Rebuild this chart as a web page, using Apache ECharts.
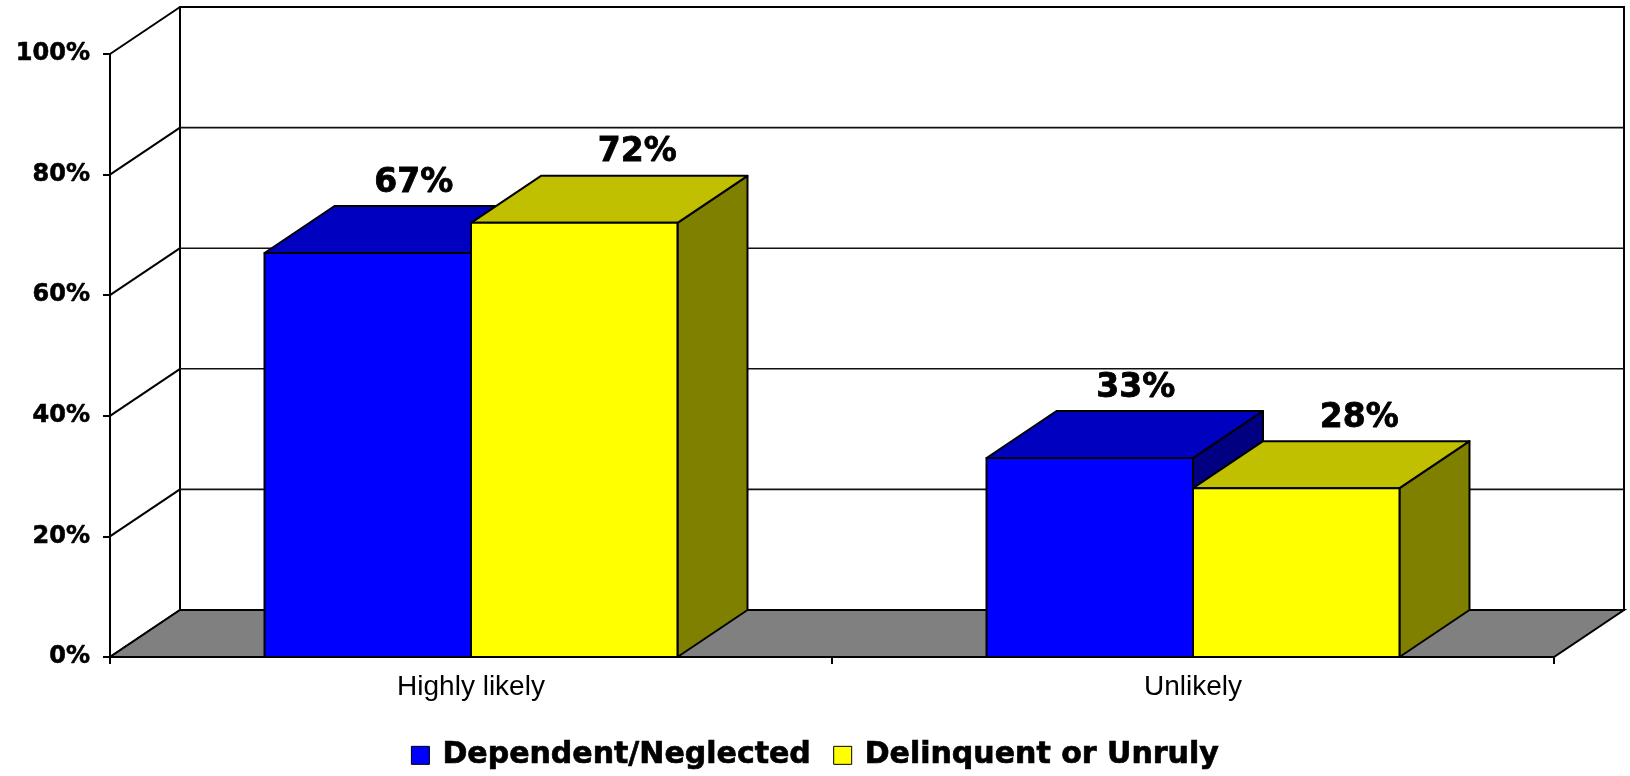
<!DOCTYPE html>
<html>

<head>
    <meta charset="UTF-8">
    <title>Placement outlook</title>
    <style>
        html, body { margin: 0; padding: 0; background: #fff; }
        #container { width: 1630px; height: 776px; }
    </style>
</head>

<body>
    <div id="container"></div>
    <script src="https://cdn.jsdelivr.net/npm/echarts@6/dist/echarts.min.js"></script>
    <script>
        var categories = ['Highly likely', 'Unlikely'];
        var seriesNames = ['Dependent/Neglected', 'Delinquent or Unruly'];
        var dependent = [67, 33];
        var delinquent = [72, 28];
        var yTicks = [0, 20, 40, 60, 80, 100];

        // oblique depth of the 3d box (pixels)
        var DX = 70, DY = -47;
        var BAR_FRAC = 0.286;
        var faces = [
            { front: '#0000FF', top: '#0000C0', side: '#000080', shift: 46 },
            { front: '#FFFF00', top: '#C0C000', side: '#808000', shift: 63 }
        ];

        function renderFrame(params, api) {
            var cs = params.coordSys;
            var x0 = cs.x, x1 = cs.x + cs.width;
            var yb = api.coord([0, 0])[1];
            var yt = api.coord([0, 100])[1];
            var kids = [];
            // back wall
            kids.push({
                type: 'rect',
                shape: { x: x0 + DX, y: yt + DY, width: x1 - x0, height: yb - yt },
                style: { fill: '#fff', stroke: '#000', lineWidth: 2 }
            });
            yTicks.forEach(function (v) {
                var y = api.coord([0, v])[1];
                if (v > 0 && v < 100) {
                    kids.push({
                        type: 'line',
                        shape: { x1: x0 + DX, y1: y + DY, x2: x1 + DX, y2: y + DY },
                        style: { stroke: '#111', lineWidth: 1.6 }
                    });
                }
                kids.push({
                    type: 'line',
                    shape: { x1: x0, y1: y, x2: x0 + DX, y2: y + DY },
                    style: { stroke: '#000', lineWidth: 2 }
                });
            });
            // floor
            kids.push({
                type: 'polygon',
                shape: { points: [[x0, yb], [x1, yb], [x1 + DX, yb + DY], [x0 + DX, yb + DY]] },
                style: { fill: '#808080', stroke: '#000', lineWidth: 2 }
            });
            return { type: 'group', children: kids };
        }

        function renderBar(params, api) {
            var s = params.seriesIndex - 1;
            var f = faces[s];
            var val = api.value(1);
            var top = api.coord([api.value(0), val]);
            var base = api.coord([api.value(0), 0]);
            var bw = api.size([1, 0])[0] * BAR_FRAC;
            var l = top[0] - bw + s * bw, r = l + bw;
            var yt = top[1], yb = base[1];
            var ln = { stroke: '#000', lineWidth: 2, lineJoin: 'round' };
            return {
                type: 'group',
                children: [
                    {
                        type: 'polygon',
                        shape: { points: [[r, yt], [r + DX, yt + DY], [r + DX, yb + DY], [r, yb]] },
                        style: Object.assign({ fill: f.side }, ln)
                    },
                    {
                        type: 'polygon',
                        shape: { points: [[l, yt], [r, yt], [r + DX, yt + DY], [l + DX, yt + DY]] },
                        style: Object.assign({ fill: f.top }, ln)
                    },
                    {
                        type: 'rect',
                        shape: { x: l, y: yt, width: bw, height: yb - yt },
                        style: Object.assign({ fill: f.front }, ln)
                    },
                    {
                        type: 'text',
                        x: (l + r) / 2 + f.shift,
                        y: yt + DY - 23,
                        style: {
                            text: val + '%',
                            align: 'center',
                            verticalAlign: 'middle',
                            fontFamily: 'DejaVu Sans',
                            fontWeight: 'bold',
                            fontSize: 33,
                            fill: '#000',
                            stroke: '#000',
                            lineWidth: 0.8
                        }
                    }
                ]
            };
        }

        function barData(vals) {
            return vals.map(function (v, i) { return [i, v]; });
        }

        var myChart = echarts.init(document.getElementById('container'));
        myChart.setOption({
            animation: false,
            grid: { left: 110, top: 54, width: 1444, height: 603 },
            legend: {
                data: seriesNames,
                left: 'center',
                top: 735,
                icon: 'rect',
                itemWidth: 18,
                itemHeight: 18,
                itemGap: 22,
                itemStyle: { borderColor: '#000', borderWidth: 1 },
                textStyle: {
                    fontFamily: 'DejaVu Sans',
                    fontWeight: 'bold',
                    fontSize: 30,
                    color: '#000',
                    textBorderColor: '#000',
                    textBorderWidth: 0.7,
                    padding: [0, 0, 0, 8]
                }
            },
            xAxis: {
                type: 'category',
                data: categories,
                axisLine: { lineStyle: { color: '#000', width: 2 } },
                axisTick: { show: true, length: 7, lineStyle: { color: '#000', width: 2 } },
                axisLabel: {
                    margin: 16,
                    fontFamily: 'Liberation Sans',
                    fontSize: 28,
                    color: '#000'
                },
                splitLine: { show: false }
            },
            yAxis: {
                type: 'value',
                min: 0,
                max: 100,
                interval: 20,
                axisLine: { show: true, lineStyle: { color: '#000', width: 2 } },
                axisTick: { show: true, length: 7, lineStyle: { color: '#000', width: 2 } },
                axisLabel: {
                    formatter: '{value}%',
                    margin: 20,
                    fontFamily: 'DejaVu Sans',
                    fontWeight: 'bold',
                    fontSize: 24,
                    color: '#000',
                    textBorderColor: '#000',
                    textBorderWidth: 0.6
                },
                splitLine: { show: false }
            },
            series: [
                {
                    name: 'frame',
                    type: 'custom',
                    silent: true,
                    clip: false,
                    z: 1,
                    renderItem: renderFrame,
                    data: [[0, 0]]
                },
                {
                    name: seriesNames[0],
                    type: 'custom',
                    clip: false,
                    itemStyle: { color: faces[0].front },
                    renderItem: renderBar,
                    data: barData(dependent)
                },
                {
                    name: seriesNames[1],
                    type: 'custom',
                    clip: false,
                    itemStyle: { color: faces[1].front },
                    renderItem: renderBar,
                    data: barData(delinquent)
                }
            ]
        });
    </script>
</body>

</html>
